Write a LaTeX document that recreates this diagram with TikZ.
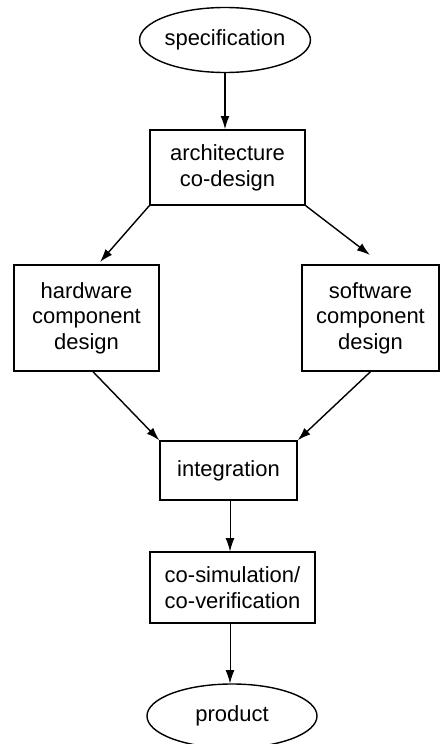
\documentclass[tikz,border=0pt]{standalone}
\usepackage{fontspec}
\setmainfont{Liberation Sans}
\usetikzlibrary{%
  arrows.meta,%
  shapes.geometric%
}
\tikzset{>={Latex[length=7.5pt,width=5pt]}, block/.style = {draw, thick, align=center, inner sep=0pt},%
		terminal/.style={draw, thick, ellipse, inner sep=0pt}}

\begin{document}
\begin{tikzpicture}[font=\fontsize{12.5}{14.6}\selectfont]
        \useasboundingbox (0,0) rectangle (8.8,14.88);
        \node[terminal, minimum width=3.4cm, minimum height=1.3cm] (spec) at (4.5,14.08) {specification};
        \node[block, minimum width=3.1cm, minimum height=1.5cm] (arch) at (4.55,11.53) {architecture\\co-design};
        \node[block, minimum width=2.9cm, minimum height=2.12cm] (hw) at (1.73,8.52) {hardware\\component\\design};
        \node[block, minimum width=2.74cm, minimum height=2.12cm] (sw) at (7.41,8.52) {software\\component\\design};
        \node[block, minimum width=2.74cm, minimum height=1.18cm] (integ) at (4.57,5.47) {integration};
        \node[block, minimum width=3.3cm, minimum height=1.42cm] (cosim) at (4.65,3.13) {co-simulation/\\co-verification};
        \node[terminal, minimum width=3.4cm, minimum height=1.28cm] (prod) at (4.64,0.56) {product};
        \coordinate (hwin) at (2.0,9.64);
        \coordinate (swin) at (7.4,9.78);
        \draw[->,thick] (spec) -- (spec |- arch.north);
        \draw[->,thick] (arch.south west) -- (hwin);
        \draw[->,thick] (arch.south east) -- (swin);
        \draw[->,thick] ([xshift=0.13cm]hw.south) -- (integ.north west);
        \draw[->,thick] (sw.south) -- (integ.north east);
        \draw[->,thin] ([xshift=0.03cm]integ.south) -- ([xshift=0.03cm]integ.south |- cosim.north);
        \draw[->,thin] ([xshift=0.03cm]integ.south |- cosim.south) -- ([xshift=0.03cm]integ.south |- prod.north);
      \end{tikzpicture}
\end{document}
